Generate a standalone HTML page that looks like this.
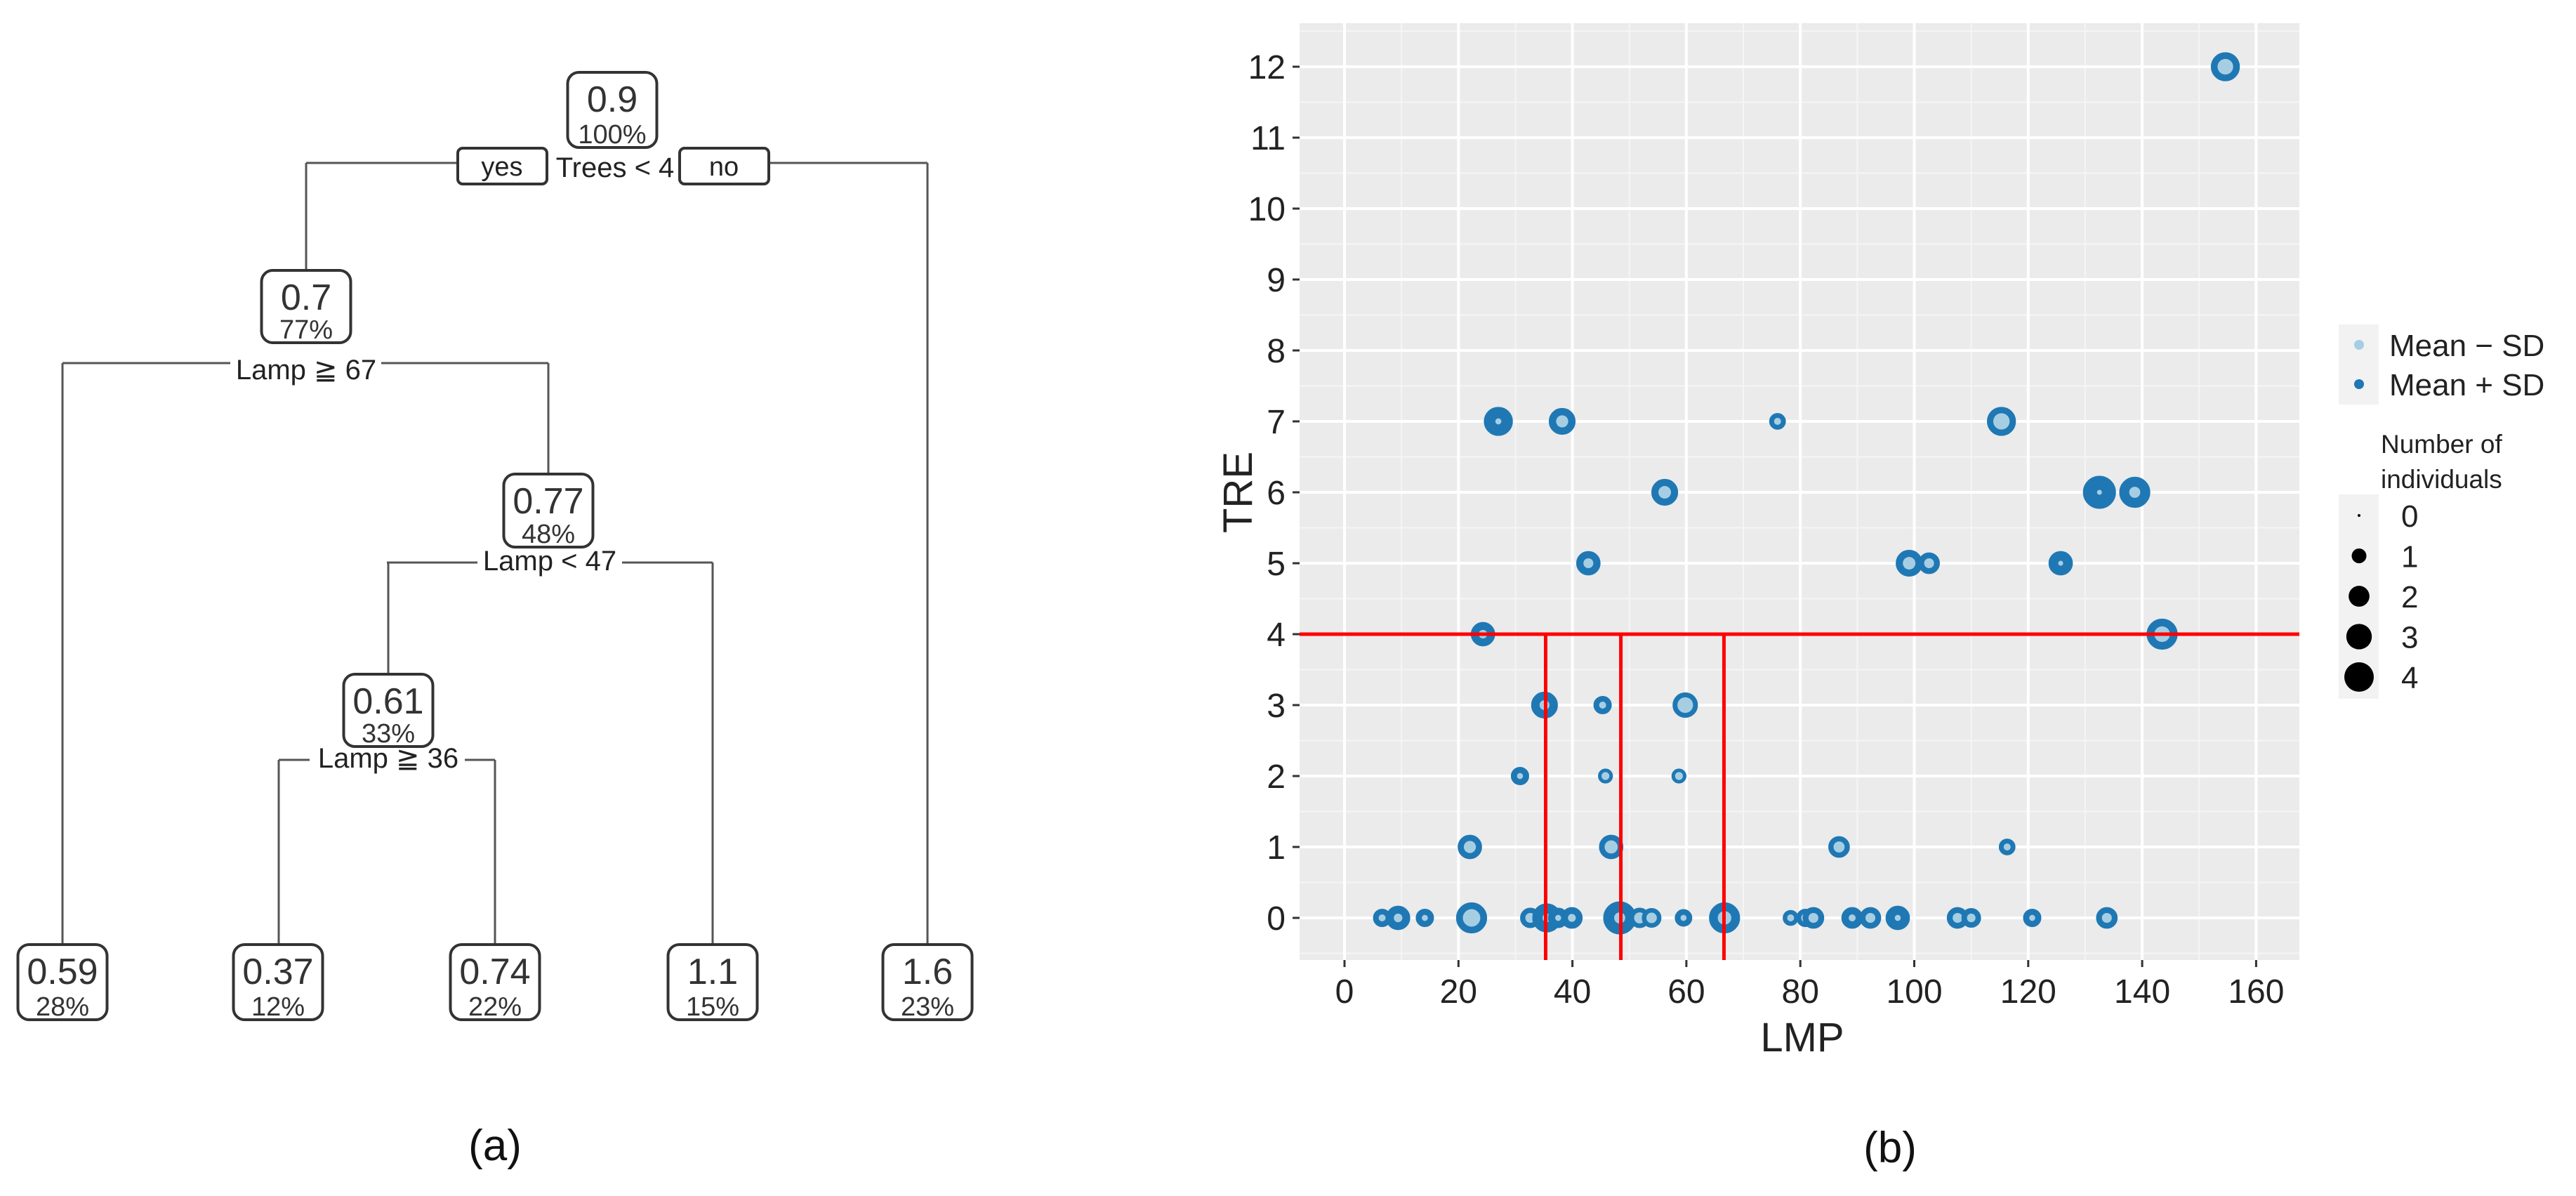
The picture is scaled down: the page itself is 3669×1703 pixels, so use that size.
<!DOCTYPE html>
<html><head><meta charset="utf-8"><style>
html,body{margin:0;padding:0;background:#fff;}
svg{display:block;font-family:"Liberation Sans",Arial,sans-serif;}
</style></head><body>
<svg id="fig" width="3669" height="1703" viewBox="0 0 3669 1703" xmlns="http://www.w3.org/2000/svg">
<rect width="3669" height="1703" fill="#fff"/>
<g id="tree"></g>
<text x="705" y="1652" font-size="62" text-anchor="middle" fill="#111">(a)</text>
<g id="chart"></g>
<text x="2692" y="1655" font-size="62" text-anchor="middle" fill="#111">(b)</text>
</svg>
<script>
// ---------- Tree data ----------
const nodeValues = ["0.9","0.7","0.77","0.61","0.59","0.37","0.74","1.1","1.6"];
const nodePercents = ["100%","77%","48%","33%","28%","12%","22%","15%","23%"];
const splitLabels = ["Trees < 4","Lamp \u2267 67","Lamp < 47","Lamp \u2267 36"];

// ---------- Chart data ----------
const xTicks = [0,20,40,60,80,100,120,140,160];
const yTicks = [0,1,2,3,4,5,6,7,8,9,10,11,12];
const pointX = [154.6,27,38.2,76,115.3,56.2,132.5,138.7,42.8,99.1,102.6,125.7,24.3,143.5,35.1,45.3,59.8,30.8,45.8,58.7,22,46.8,86.8,116.3,
  6.6,9.4,14.1,22.3,32.6,35.5,37.5,39.9,48.3,51.8,53.9,59.5,66.7,78.3,80.9,82.3,89.1,92.3,97.1,107.6,110,120.7,133.8];
const pointY = [12,7,7,7,7,6,6,6,5,5,5,5,4,4,3,3,3,2,2,2,1,1,1,1,
  0,0,0,0,0,0,0,0,0,0,0,0,0,0,0,0,0,0,0,0,0,0,0];
const meanPlusSD = [3,3,2.5,0.8,3,2.5,4,3.5,2,2.5,1.5,2,2,3.5,2.5,1,2.2,1,0.6,0.6,2,2,1.5,0.8,
  1,2,1,3.5,1.3,3,1.3,1.5,4,1.3,1.2,0.9,3.5,0.7,1,1.5,1.5,1.5,2,1.5,1.2,1,1.5];
const meanMinusSD = [2,0.3,1.2,0.4,2.2,1.3,0.2,1,0.8,1.3,0.8,0.2,0.6,2,0.8,0.4,2,0.3,0.5,0.5,1.2,1.4,1,0.4,
  0.4,0.6,0.3,2.5,0.8,0.6,0.3,0.5,1,1,0.9,0.3,1.5,0.4,0.6,0.8,0.4,0.8,0.3,0.8,0.6,0.3,0.8];
const sizeLegend = [0,1,2,3,4];
const splitY = [4];
const splitX = [35.3,48.5,66.6];

const NS="http://www.w3.org/2000/svg";
function mk(tag, attrs, parent){const e=document.createElementNS(NS,tag);for(const k in attrs)e.setAttribute(k,attrs[k]);parent.appendChild(e);return e;}

// ---------- Draw tree ----------
const tree=document.getElementById('tree');
const nodeCx=[872,436,781,553,89,396,705,1015,1321];
const nodeTop=[103,385,675,960,1345,1345,1345,1345,1345];
const nodeH=[107,103,104,103,107,107,107,107,107];
const lc="#555";
function line(x1,y1,x2,y2,name){const l=mk('line',{x1,y1,x2,y2,stroke:lc,'stroke-width':3},tree);

}
line(436,232,652,232,'edge-root-left');line(1095,232,1321,232,'edge-root-right');
line(436,232,436,385,'edge-to-node-0.7');line(1321,232,1321,1345,'edge-to-leaf-1.6');
line(89,517,328,517,'edge-n07-left');line(543,517,781,517,'edge-n07-right');
line(89,517,89,1345,'edge-to-leaf-0.59');line(781,517,781,675,'edge-to-node-0.77');
line(551,801,680,801,'edge-n077-left');line(886,801,1015,801,'edge-n077-right');
line(553,801,553,960,'edge-to-node-0.61');line(1015,801,1015,1345,'edge-to-leaf-1.1');
line(397,1082,441,1082,'edge-n061-left');line(662,1082,705,1082,'edge-n061-right');
line(397,1082,397,1345,'edge-to-leaf-0.37');line(705,1082,705,1345,'edge-to-leaf-0.74');
for(let i=0;i<nodeValues.length;i++){
  const g=mk('g',{},tree);
  
  
  const w=127,x=nodeCx[i]-w/2,y=nodeTop[i],h=nodeH[i];
  mk('rect',{x,y,width:w,height:h,rx:16,fill:'#fff',stroke:'#333','stroke-width':4},g);
  const t1=mk('text',{x:nodeCx[i],y:y+56,'font-size':52,'text-anchor':'middle',fill:'#333'},g);t1.textContent=nodeValues[i];
  const t2=mk('text',{x:nodeCx[i],y:y+h-6,'font-size':38,'text-anchor':'middle',fill:'#333'},g);t2.textContent=nodePercents[i];
}
[['yes',652],['no',968]].forEach(([s,x])=>{
  const g=mk('g',{},tree);
  
  
  mk('rect',{x,y:211,width:127,height:51,rx:7,fill:'#fff',stroke:'#333','stroke-width':4},g);
  const t=mk('text',{x:x+63,y:250,'font-size':38,'text-anchor':'middle',fill:'#222'},g);t.textContent=s;
});
const splitPos=[[876,252],[436,540],[783,812],[553,1093]];
splitLabels.forEach((s,i)=>{
  const t=mk('text',{x:splitPos[i][0],y:splitPos[i][1],'font-size':40,'text-anchor':'middle',fill:'#222'},tree);
  t.textContent=s;
  
  
});

// ---------- Draw chart ----------
const ch=document.getElementById('chart');
const PL=1851,PR=3275,PT=33,PB=1367;
const X0=1915,XS=162.3/20,Y0=1307,YS=101;
const sx=v=>X0+v*XS, sy=v=>Y0-v*YS;
const rr=n=>Math.max(2.5,10.5*Math.sqrt(n));
const bg=mk('rect',{x:PL,y:PT,width:PR-PL,height:PB-PT,fill:'#ebebeb'},ch);


for(let v=-0.5;v<=12.5;v+=1){mk('line',{x1:PL,x2:PR,y1:sy(v),y2:sy(v),stroke:'#f5f5f5','stroke-width':2},ch);}
for(let v=-10;v<=170;v+=20){if(sx(v)>PL&&sx(v)<PR)mk('line',{x1:sx(v),x2:sx(v),y1:PT,y2:PB,stroke:'#f5f5f5','stroke-width':2},ch);}
yTicks.forEach(v=>{
  const g=mk('line',{x1:PL,x2:PR,y1:sy(v),y2:sy(v),stroke:'#fff','stroke-width':4},ch);
  
  
  mk('line',{x1:PL-10,x2:PL,y1:sy(v),y2:sy(v),stroke:'#333','stroke-width':3},ch);
  const t=mk('text',{x:PL-20,y:sy(v)+17,'font-size':48,'text-anchor':'end',fill:'#222'},ch);t.textContent=v;
  
  
});
xTicks.forEach(v=>{
  const g=mk('line',{x1:sx(v),x2:sx(v),y1:PT,y2:PB,stroke:'#fff','stroke-width':4},ch);
  
  
  mk('line',{x1:sx(v),x2:sx(v),y1:PB,y2:PB+10,stroke:'#333','stroke-width':3},ch);
  const t=mk('text',{x:sx(v),y:PB+61,'font-size':48,'text-anchor':'middle',fill:'#222'},ch);t.textContent=v;
  
  
});
for(let i=0;i<pointX.length;i++){
  const g=mk('g',{},ch);
  
  
  mk('circle',{cx:sx(pointX[i]),cy:sy(pointY[i]),r:rr(meanPlusSD[i]),fill:'#1f78b4',stroke:'#1f78b4','stroke-width':5},g);
  mk('circle',{cx:sx(pointX[i]),cy:sy(pointY[i]),r:rr(meanMinusSD[i])*0.75,fill:'#a6cee3'},g);
}
splitY.forEach(v=>{const l=mk('line',{x1:PL,x2:PR,y1:sy(v),y2:sy(v),stroke:'#f00','stroke-width':5},ch);
  
  });
splitX.forEach(v=>{const l=mk('line',{x1:sx(v),x2:sx(v),y1:sy(splitY[0]),y2:PB,stroke:'#f00','stroke-width':5},ch);
  
  });
let t=mk('text',{x:2567,y:1497,'font-size':58,'text-anchor':'middle',fill:'#222'},ch);t.textContent='LMP';


t=mk('text',{x:0,y:0,'font-size':58,'text-anchor':'middle',fill:'#222',transform:'translate(1783,701) rotate(-90)'},ch);t.textContent='TRE';


const lg=mk('g',{},ch);


mk('rect',{x:3331,y:462,width:57,height:114,fill:'#f2f2f2'},lg);
[['Mean \u2212 SD','#a6cee3',491],['Mean + SD','#1f78b4',547]].forEach(([s,c,y])=>{
  const e=mk('g',{},lg);
  
  
  mk('circle',{cx:3360,cy:y,r:7,fill:c},e);
  const tt=mk('text',{x:3403,y:y+16,'font-size':44,fill:'#222'},e);tt.textContent=s;
});
t=mk('text',{x:3391,y:645,'font-size':37,fill:'#222'},lg);t.textContent='Number of';


t=mk('text',{x:3391,y:695,'font-size':37,fill:'#222'},lg);t.textContent='individuals';
mk('rect',{x:3331,y:704,width:57,height:291,fill:'#f2f2f2'},lg);
sizeLegend.forEach((n,i)=>{
  const e=mk('g',{},lg);
  
  
  const y=734+i*57.5;
  mk('circle',{cx:3360,cy:y,r:n===0?2:rr(n),fill:'#000'},e);
  const tt=mk('text',{x:3420,y:y+16,'font-size':44,fill:'#222'},e);tt.textContent=n;
});
</script>
</body></html>
